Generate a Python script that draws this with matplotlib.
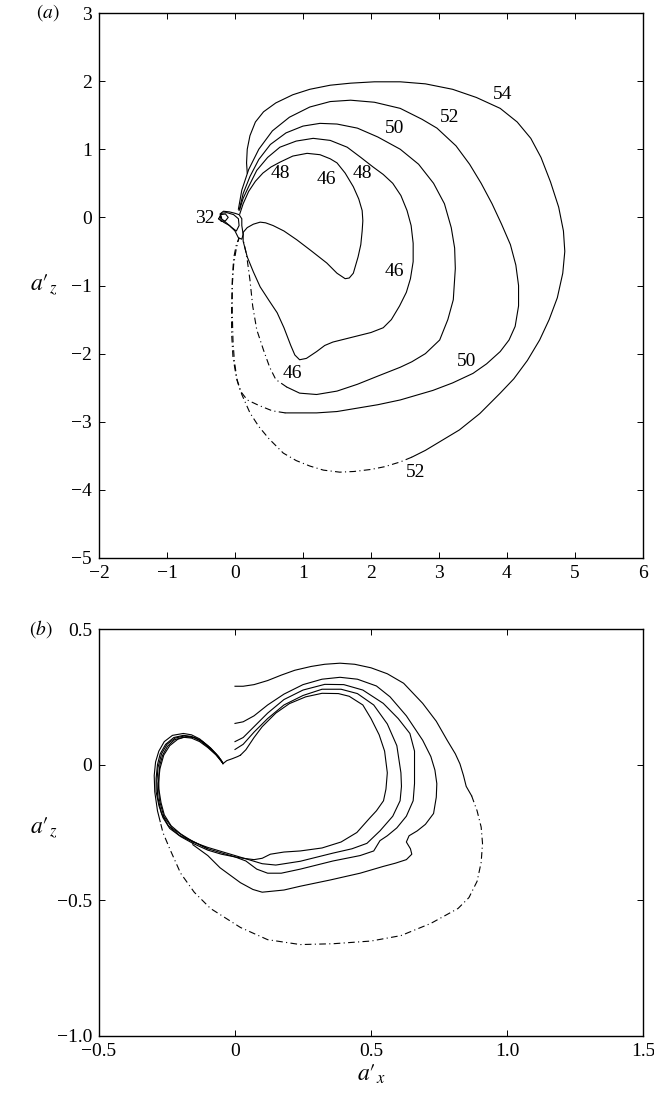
import numpy as np
import matplotlib.pyplot as plt
from matplotlib.ticker import FixedLocator

plt.rcParams['font.family'] = ['Liberation Serif', 'DejaVu Serif']
plt.rcParams['mathtext.fontset'] = 'stix'
plt.rcParams['font.size'] = 13

## (a) trajectories
# inner loop + loop through the bottom
l46_x = [0.07, 0.12, 0.2, 0.3, 0.41, 0.53, 0.66, 0.85, 1.06, 1.25, 1.4, 1.5, 1.62, 1.74, 1.82,
         1.87, 1.88, 1.87, 1.85, 1.81, 1.74, 1.68, 1.62, 1.5, 1.35, 1.12, 0.91, 0.72, 0.56, 0.45,
         0.37, 0.27, 0.18, 0.12, 0.12, 0.18, 0.27, 0.37, 0.5, 0.62, 0.72, 0.82, 0.88, 0.95, 1.05,
         1.2, 1.32, 1.44, 1.6, 1.8, 2.0, 2.18, 2.3, 2.42, 2.52, 2.58, 2.62, 2.62, 2.59, 2.53,
         2.44, 2.32, 2.18, 2.03, 1.85, 1.65, 1.4, 1.15, 0.9, 0.66, 0.48, 0.32, 0.2, 0.12, 0.07]
l46_y = [0.05, 0.2, 0.38, 0.53, 0.65, 0.74, 0.81, 0.9, 0.94, 0.92, 0.86, 0.8, 0.65, 0.45, 0.27,
         0.1, -0.05, -0.2, -0.4, -0.58, -0.82, -0.89, -0.9, -0.82, -0.67, -0.49, -0.33, -0.2, -0.12, -0.08,
         -0.07, -0.1, -0.15, -0.22, -0.35, -0.58, -0.8, -1.02, -1.22, -1.4, -1.62, -1.88, -2.02, -2.09, -2.07,
         -1.97, -1.88, -1.83, -1.79, -1.74, -1.69, -1.62, -1.5, -1.3, -1.1, -0.9, -0.65, -0.38, -0.12, 0.1,
         0.32, 0.5, 0.63, 0.74, 0.88, 1.03, 1.13, 1.16, 1.12, 1.03, 0.88, 0.69, 0.45, 0.28, 0.12]
# "50" run
l50_x = [0.06, 0.12, 0.22, 0.35, 0.52, 0.75, 1.0, 1.25, 1.5, 1.8, 2.1, 2.43, 2.7, 2.92, 3.08,
         3.18, 3.23, 3.24, 3.21, 3.13, 3.01, 2.8, 2.6, 2.43, 2.1, 1.8, 1.5, 1.2, 0.95, 0.76]
l50_y = [0.1, 0.35, 0.6, 0.85, 1.07, 1.24, 1.34, 1.38, 1.37, 1.31, 1.18, 1.0, 0.78, 0.5, 0.2,
         -0.15, -0.45, -0.75, -1.21, -1.5, -1.8, -2.0, -2.12, -2.2, -2.33, -2.45, -2.55, -2.6, -2.58, -2.49]
l50_dx = [0.76, 0.6, 0.51, 0.42, 0.32, 0.26, 0.22, 0.17, 0.12]
l50_dy = [-2.49, -2.38, -2.2, -1.95, -1.65, -1.3, -0.92, -0.55, -0.33]
# "52" run
l52_x = [0.05, 0.1, 0.2, 0.35, 0.55, 0.8, 1.1, 1.4, 1.7, 2.05, 2.43, 2.75, 2.97, 3.25, 3.45,
         3.62, 3.78, 3.92, 4.05, 4.13, 4.17, 4.17, 4.12, 4.03, 3.9, 3.7, 3.5, 3.2, 2.91, 2.43,
         2.1, 1.8, 1.5, 1.2, 0.95, 0.74]
l52_y = [0.12, 0.4, 0.7, 1.0, 1.27, 1.47, 1.62, 1.7, 1.72, 1.69, 1.6, 1.44, 1.31, 1.05, 0.78,
         0.5, 0.2, -0.1, -0.4, -0.7, -1.0, -1.3, -1.6, -1.8, -1.97, -2.15, -2.29, -2.43, -2.54, -2.68,
         -2.75, -2.8, -2.85, -2.87, -2.87, -2.87]
l52_dx = [0.74, 0.55, 0.35, 0.18, 0.08, 0.03, -0.01, -0.03, -0.04, -0.04, -0.02, 0.02, 0.06]
l52_dy = [-2.87, -2.84, -2.76, -2.68, -2.55, -2.39, -2.1, -1.8, -1.4, -1.0, -0.7, -0.45, -0.3]
# "54" run
l54_x = [0.18, 0.17, 0.18, 0.22, 0.3, 0.42, 0.6, 0.85, 1.1, 1.4, 1.7, 2.05, 2.43, 2.8, 3.2,
         3.55, 3.9, 4.15, 4.35, 4.5, 4.64, 4.76, 4.83, 4.85, 4.82, 4.74, 4.62, 4.48, 4.3, 4.1,
         3.9, 3.6, 3.3, 3.0, 2.8, 2.6]
l54_y = [0.65, 0.8, 1.0, 1.2, 1.4, 1.55, 1.68, 1.8, 1.88, 1.94, 1.97, 1.99, 1.99, 1.96, 1.88,
         1.76, 1.6, 1.4, 1.16, 0.88, 0.52, 0.15, -0.2, -0.5, -0.82, -1.18, -1.5, -1.8, -2.1, -2.37,
         -2.58, -2.88, -3.12, -3.3, -3.42, -3.52]
l54_dx = [2.6, 2.43, 2.2, 2.0, 1.75, 1.54, 1.3, 1.1, 0.9, 0.71, 0.5, 0.35, 0.22, 0.1, 0.02,
          -0.03, -0.05, -0.05, -0.04, -0.02, 0.02, 0.06]
l54_dy = [-3.52, -3.59, -3.66, -3.7, -3.73, -3.74, -3.71, -3.65, -3.57, -3.46, -3.25, -3.07, -2.87, -2.6, -2.35,
          -2.05, -1.7, -1.3, -0.92, -0.6, -0.4, -0.3]
# "32" : small knot at the origin
k1_x = [-0.2, -0.22, -0.17, -0.08, 0.0, 0.06, 0.1, 0.1, 0.12, 0.1, 0.05, 0.0, -0.08, -0.17, -0.21, -0.2]
k1_y = [0.0, 0.05, 0.09, 0.08, 0.06, 0.04, -0.02, -0.12, -0.25, -0.32, -0.3, -0.2, -0.12, -0.07, -0.03, 0.0]
k2_x = [-0.22, -0.2, -0.12, -0.02, 0.05, 0.06, 0.02, -0.06, -0.15, -0.22]
k2_y = [0.0, 0.06, 0.07, 0.04, -0.02, -0.12, -0.2, -0.14, -0.06, 0.0]
k3_x = [-0.24, -0.21, -0.14, -0.1, -0.14, -0.2, -0.24]
k3_y = [-0.02, 0.04, 0.05, 0.0, -0.05, -0.06, -0.02]

labels_a = ['32', '48', '46', '48', '46', '46', '50', '52', '54', '50', '52']
labels_a_x = [-0.44, 0.66, 1.35, 1.87, 2.35, 0.85, 2.35, 3.16, 3.94, 3.4, 2.65]
labels_a_y = [-0.01, 0.65, 0.55, 0.65, -0.8, -2.29, 1.31, 1.47, 1.8, -2.12, -3.75]

## (b) trajectories
s1_x = [0.0, 0.03, 0.07, 0.12, 0.17, 0.22, 0.28, 0.33, 0.386, 0.44, 0.5, 0.56, 0.62, 0.69,
        0.74, 0.78, 0.81, 0.827, 0.84, 0.85, 0.87]
s1_y = [0.289, 0.289, 0.295, 0.31, 0.33, 0.348, 0.362, 0.37, 0.374, 0.37, 0.357, 0.335, 0.3, 0.226,
        0.16, 0.09, 0.04, 0.003, -0.04, -0.08, -0.115]
s1_dx = [0.87, 0.89, 0.905, 0.91, 0.905, 0.89, 0.86, 0.82, 0.72, 0.61, 0.5, 0.36, 0.24, 0.12,
         0.02, -0.09, -0.15, -0.2, -0.24, -0.265, -0.275]
s1_dy = [-0.115, -0.17, -0.23, -0.29, -0.36, -0.43, -0.49, -0.53, -0.585, -0.63, -0.65, -0.66, -0.663, -0.645,
         -0.6, -0.53, -0.47, -0.4, -0.31, -0.25, -0.21]
s2_x = [0.0, 0.03, 0.07, 0.12, 0.18, 0.25, 0.32, 0.386, 0.45, 0.52, 0.57, 0.63, 0.69, 0.72,
        0.735, 0.742, 0.74, 0.73, 0.7, 0.67, 0.64, 0.63, 0.645, 0.65, 0.63, 0.59, 0.545, 0.46,
        0.35, 0.24, 0.18, 0.1, 0.066, 0.02, -0.055, -0.1, -0.155]
s2_y = [0.152, 0.158, 0.18, 0.22, 0.26, 0.295, 0.315, 0.322, 0.315, 0.29, 0.25, 0.18, 0.09, 0.03,
        -0.02, -0.07, -0.12, -0.18, -0.22, -0.244, -0.262, -0.285, -0.31, -0.33, -0.35, -0.363, -0.375, -0.4,
        -0.425, -0.448, -0.462, -0.47, -0.46, -0.435, -0.38, -0.335, -0.295]
s3_x = [0.0, 0.03, 0.07, 0.12, 0.18, 0.25, 0.33, 0.4, 0.47, 0.545, 0.6, 0.643, 0.66, 0.66,
        0.66, 0.655, 0.63, 0.595, 0.56, 0.533, 0.51, 0.46, 0.36, 0.24, 0.17, 0.12, 0.08, 0.04,
        0.0, -0.05, -0.1, -0.155]
s3_y = [0.085, 0.1, 0.14, 0.19, 0.24, 0.275, 0.296, 0.295, 0.275, 0.226, 0.17, 0.115, 0.05, -0.015,
        -0.07, -0.133, -0.19, -0.233, -0.262, -0.28, -0.318, -0.335, -0.355, -0.385, -0.4, -0.4, -0.385, -0.355,
        -0.34, -0.33, -0.315, -0.29]
s4_x = [0.0, 0.03, 0.07, 0.12, 0.18, 0.25, 0.32, 0.39, 0.45, 0.51, 0.56, 0.595, 0.61, 0.612,
        0.607, 0.58, 0.533, 0.485, 0.43, 0.36, 0.24, 0.15, 0.1, 0.05, 0.0, -0.05, -0.1, -0.155]
s4_y = [0.056, 0.075, 0.12, 0.17, 0.22, 0.255, 0.278, 0.278, 0.262, 0.22, 0.15, 0.07, -0.03, -0.08,
        -0.133, -0.19, -0.244, -0.29, -0.31, -0.326, -0.356, -0.37, -0.365, -0.35, -0.335, -0.32, -0.305, -0.285]
s5_x = [0.02, 0.04, 0.07, 0.1, 0.15, 0.2, 0.26, 0.32, 0.38, 0.42, 0.47, 0.5, 0.53, 0.55,
        0.56, 0.555, 0.546, 0.52, 0.496, 0.448, 0.39, 0.32, 0.24, 0.18, 0.13, 0.1, 0.07, 0.03,
        0.0, -0.05, -0.1, -0.16]
s5_y = [0.035, 0.055, 0.1, 0.14, 0.19, 0.225, 0.25, 0.263, 0.262, 0.252, 0.22, 0.17, 0.11, 0.05,
        -0.03, -0.09, -0.133, -0.17, -0.196, -0.25, -0.285, -0.307, -0.318, -0.322, -0.33, -0.345, -0.35, -0.345,
        -0.34, -0.325, -0.31, -0.28]
# heart shaped lobe, every run passes through it
h0_x = [-0.275, -0.285, -0.295, -0.297, -0.292, -0.28, -0.26, -0.23, -0.19, -0.16, -0.13, -0.1, -0.07, -0.05, -0.044]
h0_y = [-0.21, -0.17, -0.1, -0.04, 0.01, 0.05, 0.085, 0.108, 0.115, 0.11, 0.095, 0.07, 0.04, 0.015, 0.004]
h1_x = [-0.155, -0.2, -0.24, -0.265, -0.28, -0.29, -0.29, -0.285, -0.275, -0.255, -0.225, -0.19, -0.16, -0.13,
        -0.1, -0.07, -0.05, -0.044, -0.03, -0.01, 0.01, 0.02]
h1_y = [-0.29, -0.265, -0.235, -0.195, -0.15, -0.1, -0.05, 0.0, 0.04, 0.075, 0.1, 0.108, 0.104, 0.09,
        0.066, 0.038, 0.015, 0.004, 0.015, 0.022, 0.03, 0.035]
h2_x = [-0.16, -0.2, -0.235, -0.26, -0.272, -0.28, -0.28, -0.276, -0.266, -0.248, -0.222, -0.19, -0.16, -0.13,
        -0.1, -0.07, -0.05, -0.044]
h2_y = [-0.28, -0.255, -0.225, -0.185, -0.14, -0.09, -0.04, 0.0, 0.035, 0.068, 0.092, 0.101, 0.098, 0.085,
        0.063, 0.036, 0.012, 0.004]
h3_x = [-0.155, -0.205, -0.245, -0.27, -0.284, -0.287, -0.283, -0.27, -0.25, -0.22, -0.185, -0.15, -0.12,
        -0.09, -0.065, -0.044]
h3_y = [-0.285, -0.26, -0.225, -0.18, -0.12, -0.06, -0.01, 0.04, 0.075, 0.098, 0.106, 0.1, 0.085,
        0.06, 0.032, 0.004]
h4_x = [-0.1, -0.18, -0.23, -0.262, -0.278, -0.282, -0.276, -0.262, -0.24, -0.21, -0.18, -0.15, -0.12,
        -0.09, -0.06, -0.044]
h4_y = [-0.31, -0.27, -0.235, -0.19, -0.13, -0.07, -0.015, 0.035, 0.07, 0.094, 0.103, 0.1, 0.086,
        0.062, 0.03, 0.004]

fig = plt.figure(figsize=(6.54, 10.94), dpi=100)
ax1 = fig.add_axes([99/654, 1-558/1094, 544/654, 545/1094])
ax2 = fig.add_axes([99/654, 1-1036/1094, 544/654, 407/1094])

lw = 0.8
dashdot = (0, (6, 3, 1, 3))
zlabel = '$a\u2032_{z}$'

for xs, ys in [(l46_x, l46_y), (l50_x, l50_y), (l52_x, l52_y), (l54_x, l54_y),
               (k1_x, k1_y), (k2_x, k2_y), (k3_x, k3_y)]:
    ax1.plot(xs, ys, 'k-', lw=lw)
for xs, ys in [(l50_dx, l50_dy), (l52_dx, l52_dy), (l54_dx, l54_dy)]:
    ax1.plot(xs, ys, color='k', lw=lw, ls=dashdot)
for t, x, y in zip(labels_a, labels_a_x, labels_a_y):
    ax1.text(x, y, t, fontsize=14, ha='center', va='center')

ax1.set_xlim(-2, 6)
ax1.set_ylim(-5, 3)
ax1.xaxis.set_major_locator(FixedLocator(range(-2, 7)))
ax1.yaxis.set_major_locator(FixedLocator(range(-5, 4)))
ax1.set_xticklabels(['\u22122', '\u22121', '0', '1', '2', '3', '4', '5', '6'])
ax1.set_yticklabels(['\u22125', '\u22124', '\u22123', '\u22122', '\u22121', '0', '1', '2', '3'])
ax1.text(-0.072, 1.0, '$(a)$', transform=ax1.transAxes, fontsize=14, ha='right', va='center')
ax1.text(-0.077, 0.5, zlabel, transform=ax1.transAxes, fontsize=17, ha='right', va='center')

for xs, ys in [(s1_x, s1_y), (s2_x, s2_y), (s3_x, s3_y), (s4_x, s4_y), (s5_x, s5_y),
               (h0_x, h0_y), (h1_x, h1_y), (h2_x, h2_y), (h3_x, h3_y), (h4_x, h4_y)]:
    ax2.plot(xs, ys, 'k-', lw=lw)
ax2.plot(s1_dx, s1_dy, color='k', lw=lw, ls=dashdot)

ax2.set_xlim(-0.5, 1.5)
ax2.set_ylim(-1.0, 0.5)
ax2.xaxis.set_major_locator(FixedLocator([-0.5, 0, 0.5, 1.0, 1.5]))
ax2.yaxis.set_major_locator(FixedLocator([-1.0, -0.5, 0, 0.5]))
ax2.set_xticklabels(['\u22120.5', '0', '0.5', '1.0', '1.5'])
ax2.set_yticklabels(['\u22121.0', '\u22120.5', '0', '0.5'])
ax2.text(-0.085, 1.0, '$(b)$', transform=ax2.transAxes, fontsize=14, ha='right', va='center')
ax2.text(-0.077, 0.51, zlabel, transform=ax2.transAxes, fontsize=17, ha='right', va='center')
ax2.set_xlabel('$a\u2032_{x}$', fontsize=17, labelpad=2)

for ax in (ax1, ax2):
    ax.tick_params(direction='in', top=True, right=True, length=4, width=0.7, labelsize=14, pad=5)
    for s in ax.spines.values():
        s.set_linewidth(1.0)

fig.savefig('out.png', dpi=100)
